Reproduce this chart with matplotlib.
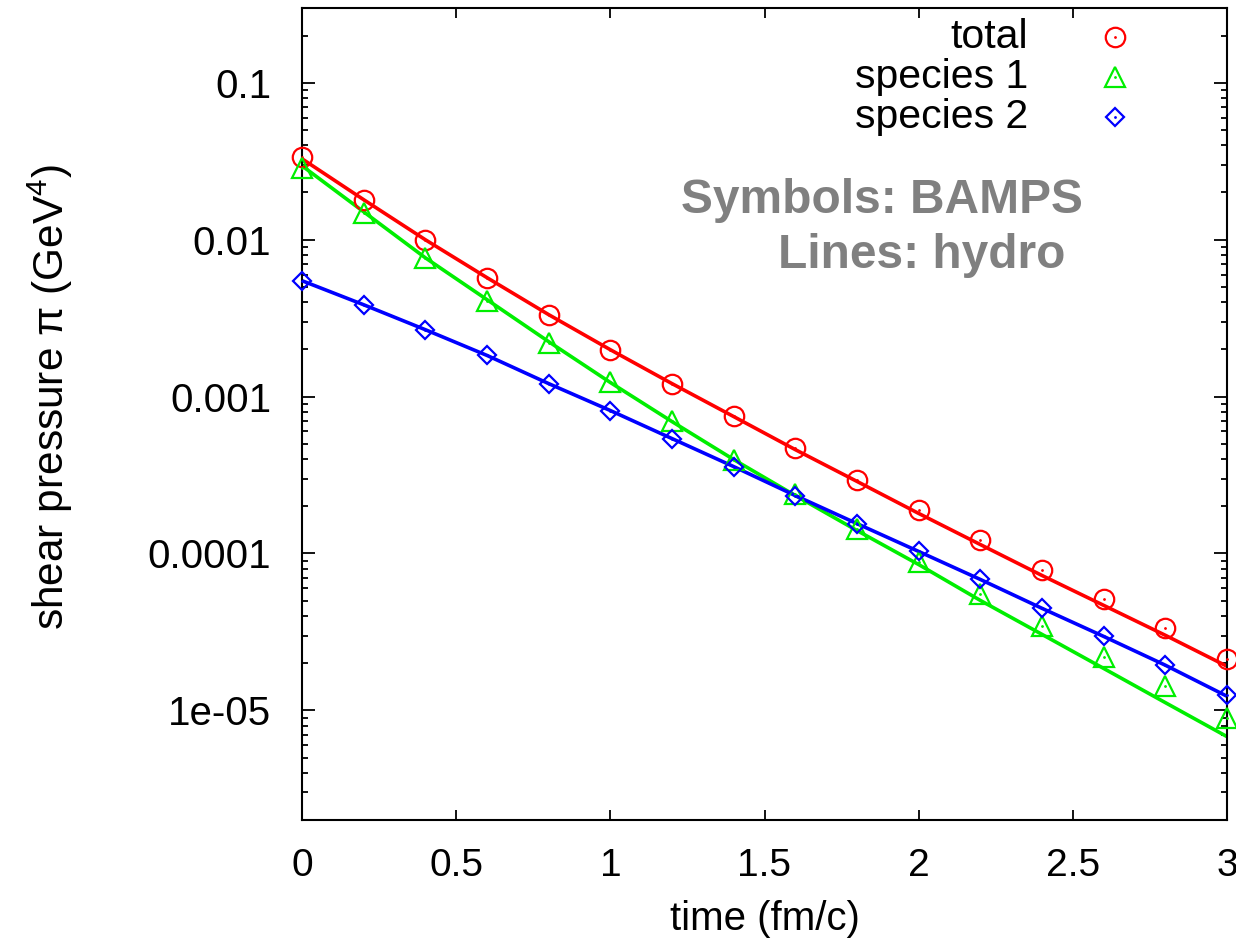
import matplotlib
matplotlib.use("Agg")
import matplotlib.pyplot as plt
from matplotlib.ticker import LogLocator, NullFormatter, FixedLocator

plt.rcParams['font.family'] = ['Liberation Sans', 'DejaVu Sans']
plt.rcParams['mathtext.fontset'] = 'custom'
plt.rcParams['mathtext.rm'] = 'Liberation Sans'
plt.rcParams['mathtext.it'] = 'Liberation Sans:italic'

# ---- data ----
time = [0.0, 0.2, 0.4, 0.6, 0.8, 1.0, 1.2, 1.4, 1.6, 1.8, 2.0, 2.2, 2.4, 2.6, 2.8, 3.0]

bamps_total = [0.0338, 0.0180, 0.0100, 0.00573, 0.00333, 0.00199, 0.00121, 0.000757,
               0.000467, 0.000296, 0.000188, 0.000121, 7.9e-5, 5.1e-5, 3.33e-5, 2.14e-5]
bamps_sp1 = [0.0288, 0.0149, 0.00767, 0.00408, 0.00221, 0.00123, 0.000703, 0.000397,
             0.000238, 0.000144, 8.77e-5, 5.48e-5, 3.43e-5, 2.18e-5, 1.42e-5, 8.9e-6]
bamps_sp2 = [0.00548, 0.00385, 0.00267, 0.00183, 0.00121, 0.000815, 0.000540, 0.000358,
             0.000234, 0.000155, 0.000103, 6.83e-5, 4.46e-5, 2.96e-5, 1.96e-5, 1.26e-5]

hydro_total = [0.0328, 0.0180, 0.0100, 0.00573, 0.00333, 0.00199, 0.00121, 0.000746,
               0.000459, 0.000288, 0.000180, 0.000114, 7.24e-5, 4.67e-5, 3.01e-5, 1.91e-5]
hydro_sp1 = [0.0296, 0.01507, 0.00767, 0.00415, 0.00224, 0.00123, 0.000693, 0.000397,
             0.000234, 0.000140, 8.5e-5, 5.02e-5, 3.05e-5, 1.85e-5, 1.12e-5, 6.8e-6]
hydro_sp2 = [0.00548, 0.00385, 0.00267, 0.00183, 0.00121, 0.000815, 0.000540, 0.000358,
             0.000234, 0.000155, 0.000103, 6.83e-5, 4.47e-5, 2.96e-5, 1.94e-5, 1.23e-5]

labels = ['total', 'species 1', 'species 2']
colors = ['#ff0000', '#00ee00', '#0000ff']
markers = ['o', '^', 'D']
msizes = [14, 14, 9.5]

xticks = [0, 0.5, 1, 1.5, 2, 2.5, 3]
xticklabels = ['0', '0.5', '1', '1.5', '2', '2.5', '3']
yticks = [1e-5, 1e-4, 1e-3, 1e-2, 1e-1]
yticklabels = ['1e-05', '0.0001', '0.001', '0.01', '0.1']

# ---- figure ----
fig = plt.figure(figsize=(12.36, 9.41), dpi=100)
ax = fig.add_axes([302/1236, 1 - 820/941, (1227 - 302)/1236, (820 - 8)/941])

bamps = [bamps_total, bamps_sp1, bamps_sp2]
hydro = [hydro_total, hydro_sp1, hydro_sp2]
for b, h, c, m, ms in zip(bamps, hydro, colors, markers, msizes):
    ax.plot(time, h, '-', color=c, lw=2.6, zorder=2)
    ax.plot(time, b, linestyle='none', marker=m, ms=ms, mfc='none', mec=c, mew=1.6, zorder=3,
            clip_on=False)
    ax.plot(time, b, linestyle='none', marker='.', ms=2, color=c, zorder=3, clip_on=False)

ax.set_yscale('log')
ax.set_xlim(0, 3)
ax.set_ylim(2.0e-6, 0.3)

ax.xaxis.set_major_locator(FixedLocator(xticks))
ax.set_xticklabels(xticklabels)
ax.yaxis.set_major_locator(FixedLocator(yticks))
ax.set_yticklabels(yticklabels)
ax.yaxis.set_minor_locator(LogLocator(base=10, subs=range(2, 10), numticks=20))
ax.yaxis.set_minor_formatter(NullFormatter())

ax.tick_params(axis='x', which='major', direction='in', length=7, width=1.3,
               top=True, bottom=True, labelsize=28, pad=20)
ax.tick_params(axis='y', which='major', direction='in', length=9.5, width=1.3,
               left=True, right=True, labelsize=29, pad=22)
ax.tick_params(axis='y', which='minor', direction='in', length=4.5, width=1.3,
               left=True, right=True)
for s in ax.spines.values():
    s.set_linewidth(1.5)

ax.set_xlabel('time (fm/c)', fontsize=29, labelpad=12)
ax.set_ylabel('shear pressure π (GeV$^4$)', fontsize=30.5)
ax.yaxis.set_label_coords(-0.245, 0.521)

# legend (marker on the right, text right-aligned)
leg_y = [0.964, 0.915, 0.866]
for lab, c, m, ms, yy in zip(labels, colors, markers, msizes, leg_y):
    ax.text(0.785, yy, lab, transform=ax.transAxes, ha='right', va='center', fontsize=29.5)
    ax.plot([0.879], [yy], transform=ax.transAxes, linestyle='none', marker=m, ms=ms,
            mfc='none', mec=c, mew=1.6, clip_on=False)
    ax.plot([0.879], [yy], transform=ax.transAxes, linestyle='none', marker='.', ms=2,
            color=c, clip_on=False)

ax.text((882 - 302)/925, 1 - (213 - 8)/812, 'Symbols: BAMPS', transform=ax.transAxes,
        ha='center', va='baseline', fontsize=34.5, fontweight='bold', color='#808080')
ax.text((922 - 302)/925, 1 - (268 - 8)/812, 'Lines: hydro', transform=ax.transAxes,
        ha='center', va='baseline', fontsize=34.5, fontweight='bold', color='#808080')

fig.savefig('out.png', dpi=100)
